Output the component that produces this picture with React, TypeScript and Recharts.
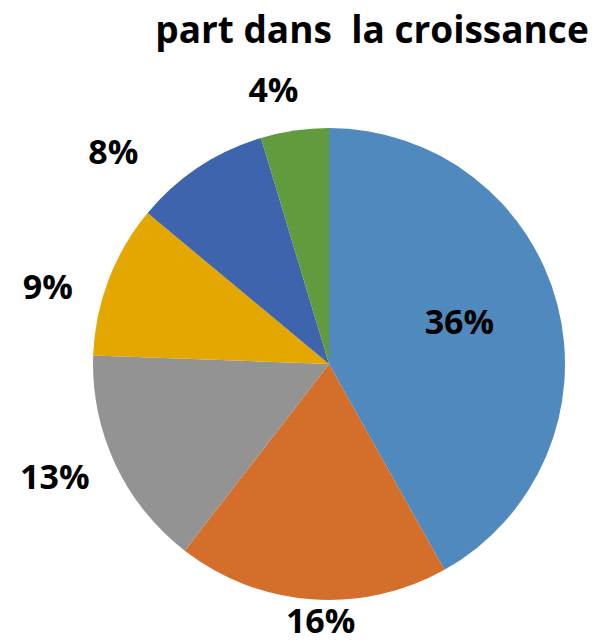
import React from "react";
import { PieChart, Pie, Cell } from "recharts";

const categories = ["A", "B", "C", "D", "E", "F"];
const values = [36, 16, 13, 9, 8, 4];
const labels = ["36%", "16%", "13%", "9%", "8%", "4%"];
const colors = ["#4F89BD", "#D36E2B", "#939393", "#E3A700", "#3D64AD", "#629A3E"];
// label style nudges (px) relative to default radial placement
const labelNudges: [number, number][] = [[-2, -8], [12, -22], [-22, -6], [-21, 21], [-62, 19], [-15, 1]];

const data = categories.map((c, i) => ({ name: c, value: values[i], label: labels[i] }));

const RAD = Math.PI / 180;
const FONT = "'Open Sans', 'Noto Sans', sans-serif";

const renderLabel = (props: any) => {
  const { cx, cy, midAngle, outerRadius, index } = props;
  const inside = index === 0;
  const r = inside ? outerRadius * 0.58 : outerRadius * 1.18;
  const x = cx + r * Math.cos(-midAngle * RAD) + labelNudges[index][0];
  const y = cy + r * Math.sin(-midAngle * RAD) + labelNudges[index][1];
  return (
    <text x={x} y={y} textAnchor="middle" dominantBaseline="central" fill="#000" fontFamily={FONT} fontWeight={700} fontSize={34}>
      {labels[index]}
    </text>
  );
};

export default function App() {
  return (
    <div style={{ position: "absolute", left: 0, top: 0, width: 592, height: 644, background: "#fff" }}>
      <PieChart width={592} height={644} margin={{ top: 0, right: 0, bottom: 0, left: 0 }}>
        <Pie
          data={data}
          dataKey="value"
          nameKey="name"
          cx={329}
          cy={364}
          outerRadius={236}
          startAngle={90}
          endAngle={-270}
          stroke="none"
          label={renderLabel}
          labelLine={false}
          isAnimationActive={false}
        >
          {data.map((d, i) => (
            <Cell key={d.name} fill={colors[i]} />
          ))}
        </Pie>
      </PieChart>
      <svg width={592} height={70} style={{ position: "absolute", left: 0, top: 0 }}>
        <text x={372} y={43} textAnchor="middle" fontFamily={FONT} fontWeight={700} fontSize={37} fill="#000" style={{ whiteSpace: "pre" }}>
          {"part dans  la croissance"}
        </text>
      </svg>
    </div>
  );
}
